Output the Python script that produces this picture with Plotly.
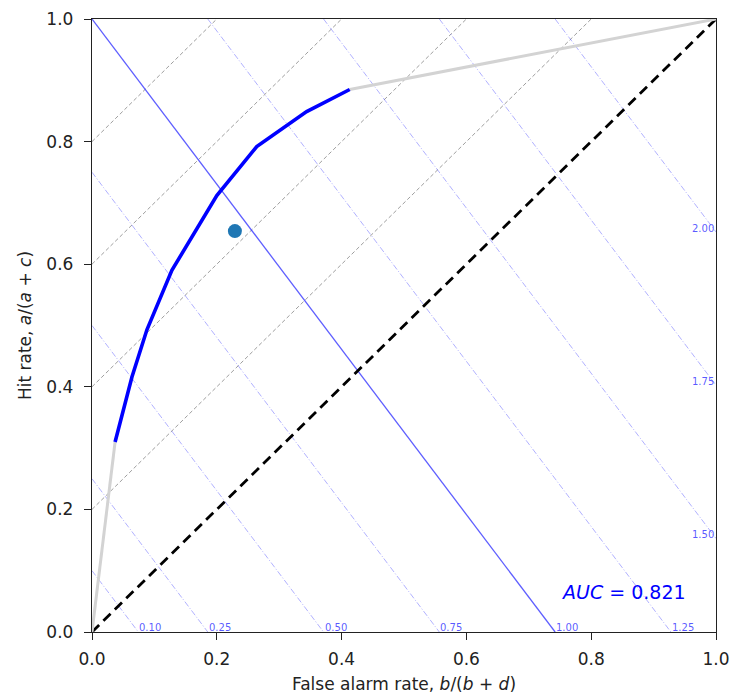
import plotly.graph_objects as go

# ---- data ----
roc_far = [0.037, 0.064, 0.088, 0.128, 0.200, 0.264, 0.344, 0.413]
roc_hit = [0.310, 0.416, 0.493, 0.590, 0.712, 0.792, 0.849, 0.885]
point_far = [0.229]
point_hit = [0.654]
bias_values = [0.10, 0.25, 0.50, 0.75, 1.00, 1.25, 1.50, 1.75, 2.00]
bias_labels = ["0.10", "0.25", "0.50", "0.75", "1.00", "1.25", "1.50", "1.75", "2.00"]
pss_values = [0.2, 0.4, 0.6, 0.8]
base_rate = 0.426
auc_value = 0.821
tick_vals = [0.0, 0.2, 0.4, 0.6, 0.8, 1.0]
tick_text = ["0.0", "0.2", "0.4", "0.6", "0.8", "1.0"]

FONT = "DejaVu Sans"
k = (1 - base_rate) / base_rate

fig = go.Figure()

# Peirce skill score lines (gray dashed)
for c in pss_values:
    fig.add_trace(go.Scatter(x=[0, 1 - c], y=[c, 1], mode="lines",
                             line=dict(color="rgba(110,110,110,0.75)", width=0.9, dash="4px,2.5px"),
                             hoverinfo="skip", showlegend=False))

# frequency bias lines
annotations = []
for b, lab in zip(bias_values, bias_labels):
    f0 = max(0.0, (b - 1) / k)
    f1 = min(1.0, b / k)
    xs = [f0, f1]
    ys = [b - k * f0, b - k * f1]
    if abs(b - 1.0) < 1e-9:
        ln = dict(color="rgba(40,40,255,0.75)", width=1.3)
    else:
        ln = dict(color="rgba(60,60,255,0.5)", width=0.8, dash="6px,2px,1px,2px")
    fig.add_trace(go.Scatter(x=xs, y=ys, mode="lines", line=ln,
                             hoverinfo="skip", showlegend=False))
    if f1 < 1.0:
        annotations.append(dict(x=f1, y=0, text=lab, xanchor="left", yanchor="bottom",
                                showarrow=False, xshift=-1, yshift=-3,
                                font=dict(family=FONT, size=10, color="rgba(60,60,255,0.85)")))
    else:
        annotations.append(dict(x=1.0, y=ys[1], text=lab, xanchor="right", yanchor="bottom",
                                showarrow=False, yshift=-4,
                                font=dict(family=FONT, size=10, color="rgba(60,60,255,0.85)")))

# no-skill diagonal
fig.add_trace(go.Scatter(x=[0, 1], y=[0, 1], mode="lines",
                         line=dict(color="black", width=2.8, dash="10px,6px"),
                         hoverinfo="skip", showlegend=False))

# ROC extensions (gray)
fig.add_trace(go.Scatter(x=[0, roc_far[0]], y=[0, roc_hit[0]], mode="lines",
                         line=dict(color="#d3d3d3", width=3), showlegend=False))
fig.add_trace(go.Scatter(x=[roc_far[-1], 1], y=[roc_hit[-1], 1], mode="lines",
                         line=dict(color="#d3d3d3", width=3), showlegend=False))
# ROC curve
fig.add_trace(go.Scatter(x=roc_far, y=roc_hit, mode="lines",
                         line=dict(color="blue", width=3.6), showlegend=False))
# point
fig.add_trace(go.Scatter(x=point_far, y=point_hit, mode="markers",
                         marker=dict(color="#1f77b4", size=14), showlegend=False))

annotations.append(dict(x=0.955, y=0.065, xanchor="right", yanchor="middle", showarrow=False,
                        text="<i>AUC</i> = %.3f" % auc_value,
                        font=dict(family=FONT, size=19, color="blue")))

axis_common = dict(range=[0, 1], tickvals=tick_vals, ticktext=tick_text,
                   showline=True, linecolor="#222", linewidth=1.4, mirror=True,
                   ticks="outside", ticklen=7, tickwidth=1.2, tickcolor="#222",
                   showgrid=False, zeroline=False, automargin=False,
                   tickfont=dict(family=FONT, size=17, color="#222"))

fig.update_layout(
    width=737, height=696,
    margin=dict(l=92, r=21, t=19, b=64, autoexpand=False),
    paper_bgcolor="white", plot_bgcolor="white",
    xaxis=dict(**axis_common, ticklabelstandoff=4,
               title=dict(text="False alarm rate, <i>b</i>/(<i>b</i> + <i>d</i>)",
                          font=dict(family=FONT, size=17, color="#222"), standoff=10)),
    yaxis=dict(**axis_common, ticklabelstandoff=7,
               title=dict(text="Hit rate, <i>a</i>/(<i>a</i> + <i>c</i>)",
                          font=dict(family=FONT, size=17, color="#222"), standoff=10)),
    annotations=annotations,
)

fig.write_html("out.html")
